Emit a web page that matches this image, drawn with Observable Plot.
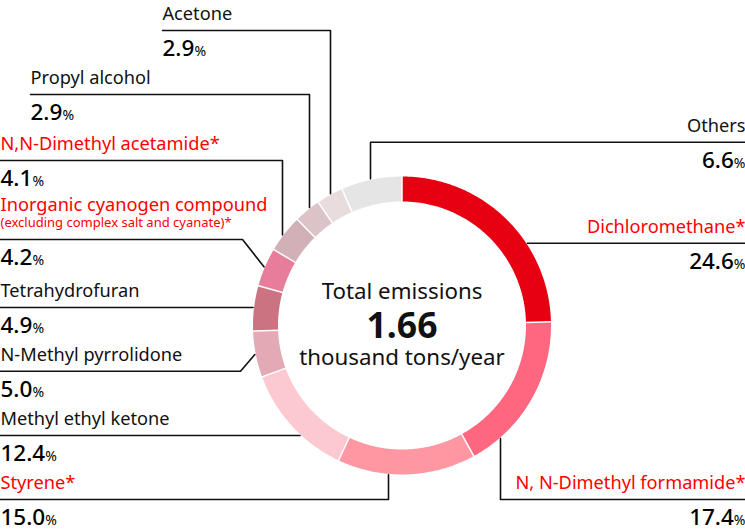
<!DOCTYPE html>
<html><head><meta charset="utf-8">
<script src="https://cdn.jsdelivr.net/npm/d3@7"></script>
<script src="https://cdn.jsdelivr.net/npm/@observablehq/plot@0.6"></script>
<style>
body{margin:0;background:#fff;}
#chart svg{font-family:"Noto Sans",sans-serif;display:block;}
</style>
</head><body><div id="chart"></div>
<script>
// ---- data ----
const substances = ["Dichloromethane*", "N, N-Dimethyl formamide*", "Styrene*", "Methyl ethyl ketone", "N-Methyl pyrrolidone", "Tetrahydrofuran", "Inorganic cyanogen compound", "N,N-Dimethyl acetamide*", "Propyl alcohol", "Acetone", "Others"];
const shares = [24.6, 17.4, 15.0, 12.4, 5.0, 4.9, 4.2, 4.1, 2.9, 2.9, 6.6];
const designated = [true, true, true, false, false, false, true, true, false, false, false];
const sliceColors = ["#e60012", "#ff6680", "#ff97a2", "#fdc9d1", "#e3a9b4", "#cc7381", "#e87d9b", "#d1b0b7", "#dbc3c8", "#e8dcdf", "#e5e5e5"];
const noteFor = "Inorganic cyanogen compound";
const noteText = "(excluding complex salt and cyanate)*";
const totalLines = ["Total emissions", "1.66", "thousand tons/year"];

// ---- layout (positions only) ----
const W = 745, H = 529;
const cx = 401.5, cy = 325, R = 149, r = 124, Rl = 150;
const leaderLayout = [
  {side: "right", lineY: 242.7, textX: 745, kind: "h"},
  {side: "right", lineY: 499, textX: 745, kind: "v", elbowX: 500},
  {side: "left", lineY: 499, textX: 0, kind: "v", elbowX: 388},
  {side: "left", lineY: 435, textX: 0, kind: "h"},
  {side: "left", lineY: 370.7, textX: 0, kind: "d", elbowX: 240},
  {side: "left", lineY: 307, textX: 0, kind: "h"},
  {side: "left", lineY: 239, textX: 0, kind: "d", elbowX: 242},
  {side: "left", lineY: 160, textX: 0, kind: "v", elbowX: 282},
  {side: "left", lineY: 94, textX: 30, kind: "v", elbowX: 309},
  {side: "left", lineY: 30, textX: 162, kind: "v", elbowX: 330},
  {side: "right", lineY: 141.7, textX: 745, kind: "v", elbowX: 370}
];

const pt = (deg, rad) => {
  const a = deg * Math.PI / 180;
  return [cx + rad * Math.sin(a), cy - rad * Math.cos(a)];
};

// slices
let cum = 0;
const slices = substances.map((name, i) => {
  const a0 = cum / 100 * 360;
  cum += shares[i];
  const a1 = cum / 100 * 360;
  return {name, i, a0, a1, mid: (a0 + a1) / 2, color: sliceColors[i]};
});
const arcPts = [];
for (const s of slices) {
  const n = Math.max(4, Math.ceil((s.a1 - s.a0) / 0.5));
  const outer = d3.range(n + 1).map(k => pt(s.a0 + (s.a1 - s.a0) * k / n, R));
  const inner = d3.range(n + 1).map(k => pt(s.a1 - (s.a1 - s.a0) * k / n, r));
  for (const [x, y] of [...outer, ...inner]) arcPts.push({name: s.name, color: s.color, x, y});
}
const seps = slices.map(s => {
  const [x1, y1] = pt(s.a0, r - 1), [x2, y2] = pt(s.a0, R + 1);
  return {x1, y1, x2, y2};
});

// leaders
const leaderPts = [];
const labels = [], values = [];
slices.forEach((s, i) => {
  const L = leaderLayout[i];
  const startX = L.side === "left" ? L.textX : W;
  const pts = [[startX, L.lineY]];
  if (L.kind === "h") {
    const dx = Math.sqrt(Rl * Rl - (L.lineY - cy) ** 2);
    pts.push([L.side === "left" ? cx - dx : cx + dx, L.lineY]);
  } else if (L.kind === "v") {
    const dy = Math.sqrt(Rl * Rl - (L.elbowX - cx) ** 2);
    pts.push([L.elbowX, L.lineY]);
    pts.push([L.elbowX, L.lineY < cy ? cy - dy : cy + dy]);
  } else {
    pts.push([L.elbowX, L.lineY]);
    pts.push(pt(s.mid, Rl));
  }
  pts.forEach(([x, y]) => leaderPts.push({name: s.name, x, y}));
  const hasNote = s.name === noteFor;
  labels.push({text: s.name, x: L.textX, y: hasNote ? L.lineY - 28.3 : L.lineY - 10.5, side: L.side, red: designated[i]});
  values.push({text: shares[i].toFixed(1) + "%", x: L.textX, y: L.lineY + 25.5, side: L.side});
});
const noteIdx = substances.indexOf(noteFor);
const noteLabel = [{text: noteText, x: leaderLayout[noteIdx].textX, y: leaderLayout[noteIdx].lineY - 12.3}];

const labelMarks = [];
for (const side of ["left", "right"]) {
  for (const red of [false, true]) {
    labelMarks.push(Plot.text(labels.filter(d => d.side === side && d.red === red), {
      x: "x", y: "y", text: "text", textAnchor: side === "left" ? "start" : "end", lineAnchor: "bottom",
      fontSize: 18.2, fill: red ? "#ff0000" : "#111"
    }));
  }
  labelMarks.push(Plot.text(values.filter(d => d.side === side), {
    x: "x", y: "y", text: "text", textAnchor: side === "left" ? "start" : "end", lineAnchor: "bottom",
    fontSize: 22.5, fontWeight: 500, fill: "#000"
  }));
}

const plot = Plot.plot({
  width: W, height: H, margin: 0,
  x: {domain: [0, W], range: [0, W], axis: null},
  y: {domain: [0, H], range: [0, H], axis: null},
  color: {type: "identity"},
  style: {background: "#fff", color: "#111", fontFamily: "Noto Sans, sans-serif"},
  marks: [
    Plot.line(arcPts, {x: "x", y: "y", z: "name", fill: "color", stroke: "none", curve: "linear"}),
    Plot.link(seps, {x1: "x1", y1: "y1", x2: "x2", y2: "y2", stroke: "#fff", strokeWidth: 1.5}),
    Plot.line(leaderPts, {x: "x", y: "y", z: "name", stroke: "#111", strokeWidth: 1.6, curve: "linear"}),
    ...labelMarks,
    Plot.text(noteLabel, {x: "x", y: "y", text: "text", textAnchor: "start", lineAnchor: "bottom", fontSize: 13, fill: "#ff0000"}),
    Plot.text([totalLines[0]], {x: cx, y: 298.3, text: d => d, textAnchor: "middle", lineAnchor: "bottom", fontSize: 22.3, fill: "#111"}),
    Plot.text([totalLines[1]], {x: cx, y: 337, text: d => d, textAnchor: "middle", lineAnchor: "bottom", fontSize: 35.5, fontWeight: 700, fill: "#111"}),
    Plot.text([totalLines[2]], {x: cx, y: 364, text: d => d, textAnchor: "middle", lineAnchor: "bottom", fontSize: 22.3, fill: "#111"})
  ]
});

// smaller percent sign
d3.select(plot).selectAll("text").each(function() {
  const t = this.textContent;
  if (/^\d+\.\d%$/.test(t)) {
    this.textContent = t.slice(0, -1);
    d3.select(this).append("tspan").attr("font-size", 14).attr("font-weight", 400).text("%");
  }
});
document.getElementById("chart").append(plot);
</script>
</body></html>
